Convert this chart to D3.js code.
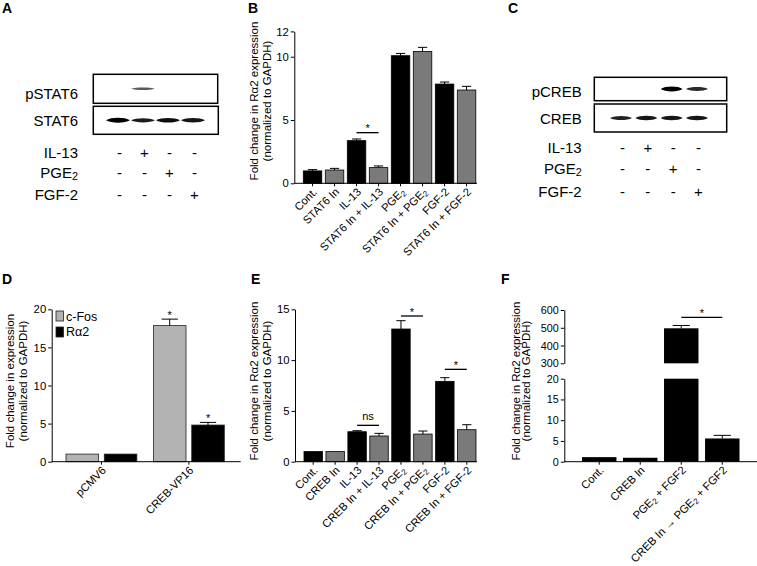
<!DOCTYPE html>
<html>
<head>
<meta charset="utf-8">
<script src="https://cdn.jsdelivr.net/npm/d3@7"></script>
<style>
  body { margin: 0; background: #fff; }
  svg text { font-family: Arial, "Liberation Sans", Helvetica, sans-serif; }
</style>
</head>
<body>
<svg id="fig" width="757" height="566"></svg>
<script>
const FONT = 'Arial, "Liberation Sans", Helvetica, sans-serif';

// ===== A, C : western blots =====
const lanes = ["L1", "L2", "L3", "L4"];
const treatRows = ["IL-13", "PGE{2}", "FGF-2"];
const treatSigns = [
  ["-", "+", "-", "-"],
  ["-", "-", "+", "-"],
  ["-", "-", "-", "+"]
];
const blotNamesA = ["pSTAT6", "STAT6"];
const pSTAT6 = [0, 0.35, 0, 0];
const STAT6 = [1, 0.8, 0.9, 0.85];
const blotNamesC = ["pCREB", "CREB"];
const pCREB = [0, 0, 1, 0.7];
const CREB = [0.75, 0.85, 0.85, 0.85];

// ===== B =====
const catsB = ["Cont.", "STAT6 In", "IL-13", "STAT6 In + IL-13", "PGE{2}", "STAT6 In + PGE{2}", "FGF-2", "STAT6 In + FGF-2"];
const meanB = [0.98, 1.05, 3.37, 1.24, 10.08, 10.42, 7.84, 7.37];
const errB  = [0.1, 0.13, 0.13, 0.13, 0.18, 0.32, 0.16, 0.29];
const ticksB = [0, 5, 10, 12];
const sigB = [{ from: 2, to: 3, at: 4.0, label: "*" }];

// ===== D =====
const groupsD = ["pCMV6", "CREB-VP16"];
const seriesD = ["c-Fos", "Rα2"];
const cFos = [1.0, 17.86];
const cFosErr = [0, 0.85];
const ra2 = [1.0, 4.81];
const ra2Err = [0, 0.35];
const ticksD = [0, 5, 10, 15, 20];
const starsD = [[false, false], [true, true]];

// ===== E =====
const catsE = ["Cont.", "CREB In", "IL-13", "CREB In + IL-13", "PGE{2}", "CREB In + PGE{2}", "FGF-2", "CREB In + FGF-2"];
const meanE = [1.0, 1.0, 2.95, 2.53, 13.06, 2.72, 7.91, 3.15];
const errE  = [0, 0, 0.1, 0.26, 0.82, 0.3, 0.36, 0.49];
const ticksE = [0, 5, 10, 15];
const sigE = [
  { from: 2, to: 3, at: 3.58, label: "ns" },
  { from: 4, to: 5, at: 14.34, label: "*" },
  { from: 6, to: 7, at: 9.09, label: "*" }
];

// ===== F (broken axis) =====
const catsF = ["Cont.", "CREB In", "PGE{2} + FGF2", "CREB In \u2192 PGE{2} + FGF2"];
const meanF = [1.1, 0.95, 497, 5.6];
const errF  = [0, 0, 16, 0.75];
const ticksFLow = [0, 5, 10, 15, 20];
const ticksFHigh = [300, 400, 500, 600];
const sigF = [{ from: 2, to: 3, at: 558, label: "*" }];

const svg = d3.select("#fig");

const defs = svg.append("defs");
defs.append("filter").attr("id", "soft")
  .attr("x", "-20%").attr("y", "-150%").attr("width", "140%").attr("height", "400%")
  .append("feGaussianBlur").attr("stdDeviation", 0.45);

// text with {sub} parts
function rich(t, str) {
  str.split(/[{}]/).forEach((p, i) => {
    if (!p) return;
    const s = t.append("tspan").text(p);
    if (i % 2 === 1) s.attr("baseline-shift", "-22%").attr("font-size", "72%");
  });
  return t;
}

// panel letters
[["A", 2, 13], ["B", 248, 13], ["C", 508, 13], ["D", 2, 284], ["E", 251, 284], ["F", 501, 284]]
  .forEach(([l, x, y]) => svg.append("text").attr("x", x).attr("y", y)
    .attr("font-size", 14).attr("font-weight", "bold").text(l));

/* ---------- blots ---------- */
function lens(cx, cy, w, h) {
  const x0 = cx - w / 2, x1 = cx + w / 2, k = 1.33 * h;
  return `M${x0},${cy} C${x0 + w * 0.2},${cy - k} ${x1 - w * 0.2},${cy - k} ${x1},${cy}` +
         ` C${x1 - w * 0.2},${cy + k} ${x0 + w * 0.2},${cy + k} ${x0},${cy}Z`;
}

function drawBlot(cfg) {
  const g = svg.append("g");
  const x = d3.scalePoint().domain(lanes).range(cfg.laneRange);
  const half = d3.scaleLinear().domain([0, 1]).range([0.6, 2.5]);
  const shade = d3.scaleLinear().domain([0, 1]).range(["#8a8a8a", "#000"]);

  cfg.boxes.forEach((b, k) => {
    g.append("rect").attr("x", b[0]).attr("y", b[1]).attr("width", b[2]).attr("height", b[3])
      .attr("fill", "none").attr("stroke", "#000").attr("stroke-width", 1.5);
    g.append("text").attr("x", cfg.labelX).attr("y", cfg.nameY[k])
      .attr("text-anchor", "end").attr("font-size", 15).text(cfg.names[k]);
    const yb = b[1] + b[3] / 2;
    g.selectAll(null)
      .data(cfg.bands[k].map((v, i) => ({ v, lane: lanes[i] })).filter(d => d.v > 0))
      .join("path")
      .attr("d", d => lens(x(d.lane), yb, cfg.bandW, half(d.v)))
      .attr("fill", d => shade(d.v))
      .attr("filter", "url(#soft)");
  });

  treatRows.forEach((name, r) => {
    const yy = cfg.rowY[r];
    rich(g.append("text").attr("x", cfg.labelX).attr("y", yy)
      .attr("text-anchor", "end").attr("font-size", 15), name);
    g.selectAll(null).data(treatSigns[r]).join("text")
      .attr("x", (d, i) => x(lanes[i]) + 1.5).attr("y", yy)
      .attr("text-anchor", "middle").attr("font-size", 15).text(d => d);
  });
}

drawBlot({
  names: blotNamesA, bands: [pSTAT6, STAT6],
  boxes: [[93.3, 74.3, 124.4, 29], [93.3, 106.3, 125, 28]],
  laneRange: [118, 193], bandW: 24, labelX: 78,
  nameY: [99, 126], rowY: [158, 178, 200]
});
drawBlot({
  names: blotNamesC, bands: [pCREB, CREB],
  boxes: [[594.3, 77.3, 132.4, 23.4], [594.3, 104, 132.4, 28]],
  laneRange: [621, 697], bandW: 22, labelX: 581.7,
  nameY: [97, 124], rowY: [153, 174, 197]
});

/* ---------- bar chart helpers ---------- */
function yAxis(g, y, ticks, ax, fs) {
  g.append("g").attr("transform", `translate(${ax},0)`)
    .call(d3.axisLeft(y).tickValues(ticks).tickSize(3.5).tickPadding(2).tickSizeOuter(0))
    .call(a => a.selectAll("text").attr("font-size", fs || 11.3).attr("font-family", FONT))
    .call(a => a.selectAll("path,line").attr("stroke", "#000").attr("stroke-width", 1));
}
function xAxisLine(g, x0, x1, ay, centers) {
  g.append("line").attr("x1", x0).attr("x2", x1).attr("y1", ay).attr("y2", ay)
    .attr("stroke", "#000").attr("stroke-width", 1);
  g.selectAll(null).data(centers).join("line")
    .attr("x1", d => d).attr("x2", d => d).attr("y1", ay).attr("y2", ay + 3)
    .attr("stroke", "#000");
}
function xLabels(g, cats, centers, ay) {
  cats.forEach((c, i) => {
    rich(g.append("text")
      .attr("transform", `translate(${centers[i] + 2.5},${ay + 6.5}) rotate(-45)`)
      .attr("text-anchor", "end").attr("dy", "0.35em").attr("font-size", 11.2), c);
  });
}
function yTitle(g, lines, tx, ty, gap) {
  const t = g.append("g").attr("transform", `translate(${tx},${ty}) rotate(-90)`);
  lines.forEach((l, i) => rich(t.append("text").attr("y", i * gap)
    .attr("text-anchor", "middle").attr("font-size", 11.5), l));
}
function errBar(g, cx, yTop, yErr, capW) {
  g.append("line").attr("x1", cx).attr("x2", cx).attr("y1", yTop).attr("y2", yErr).attr("stroke", "#000");
  g.append("line").attr("x1", cx - capW / 2).attr("x2", cx + capW / 2)
    .attr("y1", yErr).attr("y2", yErr).attr("stroke", "#000");
}
function sigLine(g, x1, x2, yy, label) {
  g.append("line").attr("x1", x1).attr("x2", x2).attr("y1", yy).attr("y2", yy)
    .attr("stroke", "#000").attr("stroke-width", 1.3);
  g.append("text").attr("x", (x1 + x2) / 2).attr("y", label === "ns" ? yy - 5 : yy - 0.5)
    .attr("text-anchor", "middle").attr("font-size", 11).text(label);
}

function barChart(o) {
  const g = svg.append("g");
  const x = d3.scaleBand().domain(o.cats).range(o.xRange).paddingInner(o.pad).paddingOuter(0);
  const cx = c => x(c) + x.bandwidth() / 2;
  const y = o.y;
  g.selectAll(null).data(o.cats).join("rect")
    .attr("x", d => x(d)).attr("width", x.bandwidth())
    .attr("y", (d, i) => y(o.means[i])).attr("height", (d, i) => y(0) - y(o.means[i]))
    .attr("fill", (d, i) => o.fill(i)).attr("stroke", "#000").attr("stroke-width", 0.8);
  o.cats.forEach((c, i) => {
    if (o.errs[i] > 0) errBar(g, cx(c), y(o.means[i]), y(o.means[i] + o.errs[i]), x.bandwidth() * 0.5);
  });
  yAxis(g, y, o.ticks, o.ax);
  xAxisLine(g, o.ax, o.axEnd, y(0), o.cats.map(cx));
  xLabels(g, o.cats, o.cats.map(cx), y(0));
  yTitle(g, o.title, o.titleX, o.titleY, o.titleGap);
  o.sig.forEach(s => sigLine(g, cx(o.cats[s.from]), cx(o.cats[s.to]), y(s.at), s.label));
}

const GRAY = "#7a7a7a";

// B
barChart({
  cats: catsB, means: meanB, errs: errB, ticks: ticksB, sig: sigB,
  y: d3.scaleLinear().domain([0, 12]).range([183.3, 31.4]),
  xRange: [303.3, 475.8], pad: 0.16, ax: 294.3, axEnd: 477,
  fill: i => (i % 2 ? GRAY : "#000"),
  title: ["Fold change in R\u03b12 expression", "(normalized to GAPDH)"],
  titleX: 258, titleY: 101, titleGap: 12.5
});

// E
barChart({
  cats: catsE, means: meanE, errs: errE, ticks: ticksE, sig: sigE,
  y: d3.scaleLinear().domain([0, 15]).range([461.7, 309.3]),
  xRange: [304, 476], pad: 0.16, ax: 295, axEnd: 477,
  fill: i => (i % 2 ? GRAY : "#000"),
  title: ["Fold change in R\u03b12 expression", "(normalized to GAPDH)"],
  titleX: 258, titleY: 381, titleGap: 12.5
});

// D (grouped)
(function () {
  const g = svg.append("g");
  const y = d3.scaleLinear().domain([0, 20]).range([461.7, 309.3]);
  const x0 = d3.scaleBand().domain(groupsD).range([66, 224.3]).paddingInner(0.19);
  const x1 = d3.scaleBand().domain(seriesD).range([0, x0.bandwidth()]).paddingInner(0.15);
  const fills = { "c-Fos": "#b3b3b3", "Rα2": "#000" };
  const vals = { "c-Fos": cFos, "Rα2": ra2 };
  const errs = { "c-Fos": cFosErr, "Rα2": ra2Err };
  groupsD.forEach((grp, gi) => {
    seriesD.forEach((s, si) => {
      const v = vals[s][gi], bx = x0(grp) + x1(s), cx = bx + x1.bandwidth() / 2;
      g.append("rect").attr("x", bx).attr("width", x1.bandwidth())
        .attr("y", y(v)).attr("height", y(0) - y(v))
        .attr("fill", fills[s]).attr("stroke", "#222").attr("stroke-width", 0.8);
      const e = errs[s][gi];
      if (e > 0) errBar(g, cx, y(v), y(v + e), x1.bandwidth() * 0.5);
      if (starsD[gi][si]) g.append("text").attr("x", cx).attr("y", y(v + e) - 0.5)
        .attr("text-anchor", "middle").attr("font-size", 11).text("*");
    });
  });
  const centers = groupsD.map(grp => x0(grp) + x0.bandwidth() / 2);
  yAxis(g, y, ticksD, 51.7);
  xAxisLine(g, 51.7, 240.7, y(0), centers);
  xLabels(g, groupsD, centers, y(0));
  yTitle(g, ["Fold change in expression", "(normalized to GAPDH)"], 14, 381, 12.5);
  // legend
  const lg = g.append("g");
  seriesD.forEach((s, i) => {
    lg.append("rect").attr("x", 56).attr("y", 311 + i * 16).attr("width", 7.5).attr("height", 10)
      .attr("fill", fills[s]).attr("stroke", "#222").attr("stroke-width", 0.8);
    lg.append("text").attr("x", 66).attr("y", 320.5 + i * 15.5).attr("font-size", 12.5).text(s);
  });
})();

// F (broken y axis)
(function () {
  const g = svg.append("g");
  const yLow = d3.scaleLinear().domain([0, 20]).range([461.7, 378.7]);
  const yHigh = d3.scaleLinear().domain([300, 600]).range([363.3, 310]);
  const x = d3.scaleBand().domain(catsF).range([582, 739.5]).paddingInner(0.16);
  const cx = c => x(c) + x.bandwidth() / 2;
  const ax = 564.3;
  catsF.forEach((c, i) => {
    const v = meanF[i];
    const topLow = Math.min(v, 20);
    g.append("rect").attr("x", x(c)).attr("width", x.bandwidth())
      .attr("y", yLow(topLow)).attr("height", yLow(0) - yLow(topLow)).attr("fill", "#000");
    let yTop = yLow(v), yE = yLow(v + errF[i]);
    if (v > 300) {
      g.append("rect").attr("x", x(c)).attr("width", x.bandwidth())
        .attr("y", yHigh(v)).attr("height", yHigh(300) - yHigh(v)).attr("fill", "#000");
      yTop = yHigh(v); yE = yHigh(v + errF[i]);
    }
    if (errF[i] > 0) errBar(g, cx(c), yTop, yE, x.bandwidth() * 0.5);
  });
  yAxis(g, yLow, ticksFLow, ax, 10.8);
  yAxis(g, yHigh, ticksFHigh, ax, 10.8);
  xAxisLine(g, ax, 757, yLow(0), catsF.map(cx));
  xLabels(g, catsF, catsF.map(cx), yLow(0));
  yTitle(g, ["Fold change in R\u03b12 expression", "(normalized to GAPDH)"], 519.5, 381, 10.5);
  sigF.forEach(s => sigLine(g, cx(catsF[s.from]), cx(catsF[s.to]), yHigh(s.at), s.label));
})();
</script>
</body>
</html>
